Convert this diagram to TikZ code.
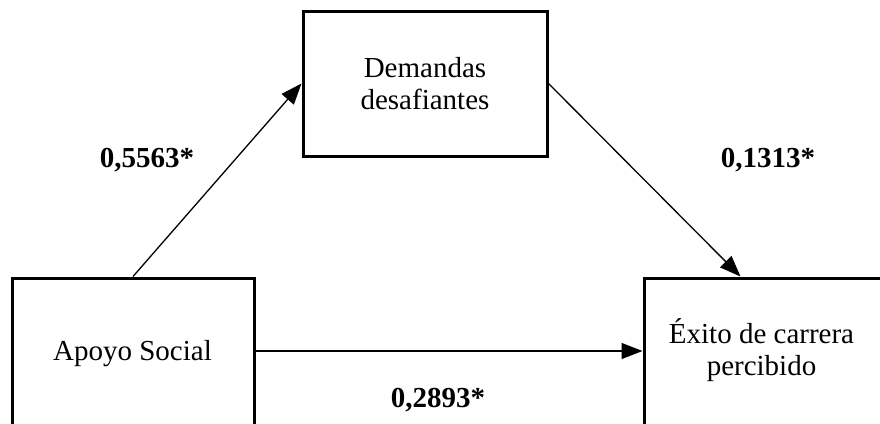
\documentclass[tikz,border=0pt]{standalone}
\usepackage{fontspec}
\setmainfont{Liberation Serif}
\usetikzlibrary{arrows.meta,calc}
\begin{document}
\begin{tikzpicture}[x=1pt,y=-1pt,
  box/.style={draw, line width=3pt, minimum width=242pt, minimum height=145pt, inner sep=0pt, align=center,
    font=\fontsize{29}{32}\selectfont},
  txt/.style={font=\fontsize{29}{32}\selectfont, align=center, inner sep=0pt},
  coef/.style={font=\fontsize{29}{32}\selectfont\bfseries, inner sep=0pt},
  arr/.style={line width=1.3pt, -{Triangle[length=21pt,width=16pt]}},
]
\useasboundingbox (0,0) rectangle (880,423);

% boxes (the lower two run past the bottom / right edge of the page)
\node[box, minimum width=244pt] (dem) at (425,83.5) {Demandas\\desafiantes};
\node[box, minimum height=160pt, anchor=north] (apo) at (133,276.5) {};
\node[box, minimum height=160pt, anchor=north west] (exi) at (642.5,276.5) {};

% box texts
\node[txt] (apotxt) at (132.5,354) {Apoyo Social};
\node[txt] (exitxt) at (761.5,350) {Éxito de carrera\\percibido};

% paths
\coordinate (mid) at (0,351);
\coordinate (exitop) at ($(exi.north west)!0.4!(exi.north east)$);
\draw[arr] (apo.north) -- (dem.west);
\draw[arr] (dem.east) -- (exitop);
\draw[arr] (apo.east |- mid) -- (exi.west |- mid);

% coefficients
\node[coef] (c1) at (147,160) {0,5563*};
\node[coef] (c2) at (768,160) {0,1313*};
\node[coef] (c3) at (438,400) {0,2893*};
\end{tikzpicture}
\end{document}
